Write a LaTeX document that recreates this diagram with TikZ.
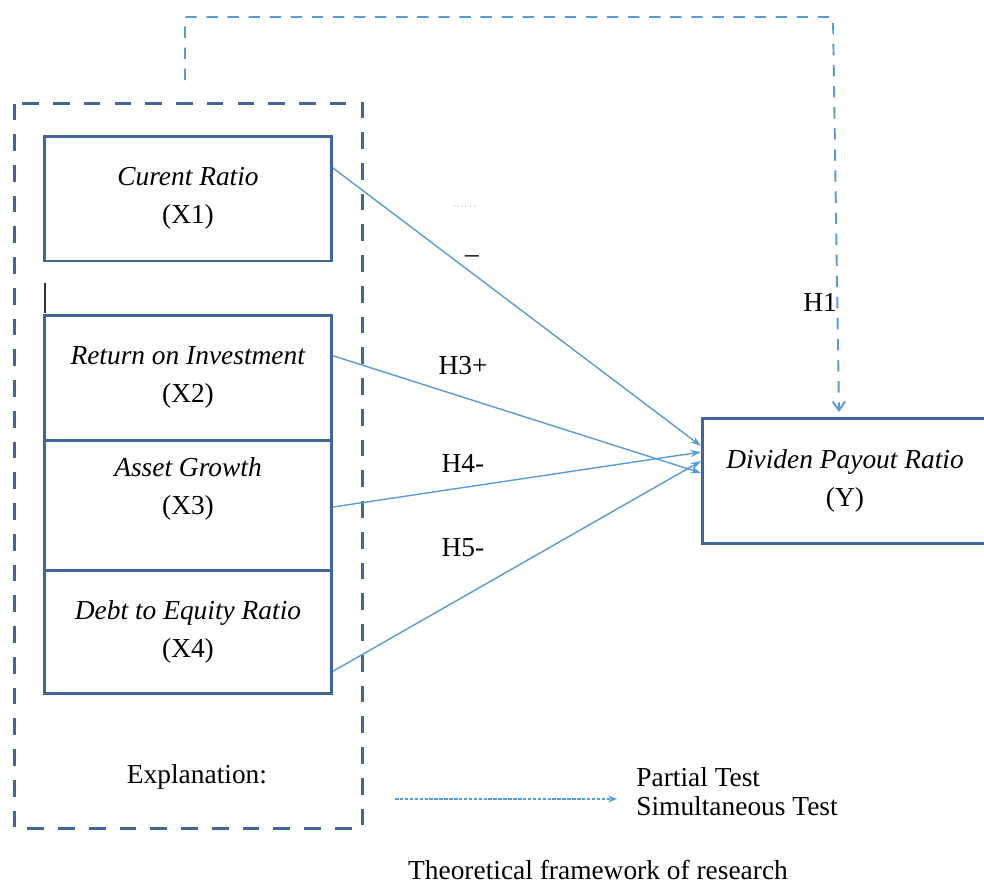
\documentclass[tikz,border=0pt]{standalone}
\usepackage{fontspec}
\setmainfont{Liberation Serif}
\usetikzlibrary{arrows.meta}
\definecolor{boxblue}{HTML}{41679A}
\definecolor{linkblue}{HTML}{5B9BD5}
\begin{document}
\begin{tikzpicture}[x=0.02cm,y=-0.02cm]
\tikzstyle{every node}+=[inner sep=0pt, font=\fontsize{15.6}{21.5}\selectfont]
\tikzstyle{varbox}=[draw=boxblue, line width=1.7pt, minimum width=5.74cm, minimum height=2.5cm, align=center]
\tikzstyle{link}=[linkblue, line width=0.8pt, -{Stealth[length=6pt,width=4pt]}]
\tikzstyle{simul}=[linkblue, line width=1.1pt, dash pattern=on 6.5pt off 5.5pt]
\useasboundingbox (0,0) rectangle (984,883);
\draw [boxblue, line width=1.7pt, dash pattern=on 9.5pt off 8pt] (14.5,103.5) rectangle (362.5,828.5);
\node [varbox] (x1) at (188,198.5) {\textit{Curent Ratio}\\(X1)};
\node [varbox, minimum height=2.49cm] (x2) at (188,377.75) {\textit{Return on Investment}\\(X2)};
\node [varbox, minimum height=2.6cm] (x3) at (188,505) {\textit{Asset Growth}\\(X3)\\~};
\node [varbox, minimum height=2.47cm] (x4) at (188,631.75) {\textit{Debt to Equity Ratio}\\(X4)};
\node [varbox, minimum width=5.7cm] (y) at (845,481) {\textit{Dividen Payout Ratio}\\(Y)};
\draw [black!80, line width=0.9pt] (45,283) -- (45,313);
\draw [link] ([yshift=0.61cm]x1.east) -- ([yshift=0.7cm]y.west);
\draw [link] ([yshift=0.44cm]x2.east) -- ([yshift=0.16cm]y.west);
\draw [link] ([yshift=-0.04cm]x3.east) -- ([yshift=0.58cm]y.west);
\draw [link] ([yshift=-0.79cm]x4.east) -- ([yshift=0.4cm]y.west);
\coordinate (simstart) at (185,80);
\coordinate (simturn) at (185,17);
\coordinate (simright) at (833,17);
\draw [simul, -{Straight Barb[length=5pt,width=7pt]}] (simstart) -- (simturn) -- (simright) -- ([xshift=-0.12cm,yshift=0.1cm]y.north);
\node (h1) at (820,302) {H1};
\node [text=gray] (h2dots) at (465,208) {\tiny ·· ·· · ·};
\node [anchor=base] (h2bar) at (472,253) {\_};
\node (h3) at (463,366) {H3+};
\node (h4) at (463,463) {H4-};
\node (h5) at (463,548) {H5-};
\node (expl) at (197,777) {Explanation:};
\node [anchor=west] (partial) at (636,777) {Partial Test};
\node [anchor=west] (simult) at (636,806) {Simultaneous Test};
\coordinate (lega) at (395,799);
\coordinate (legb) at (617,799);
\draw [linkblue, line width=0.9pt, dash pattern=on 2pt off 0.8pt, -{Stealth[length=5pt,width=4pt]}] (lega) -- (legb);
\node [anchor=base] (caption) at (598,879) {Theoretical framework of research};
\end{tikzpicture}
\end{document}
